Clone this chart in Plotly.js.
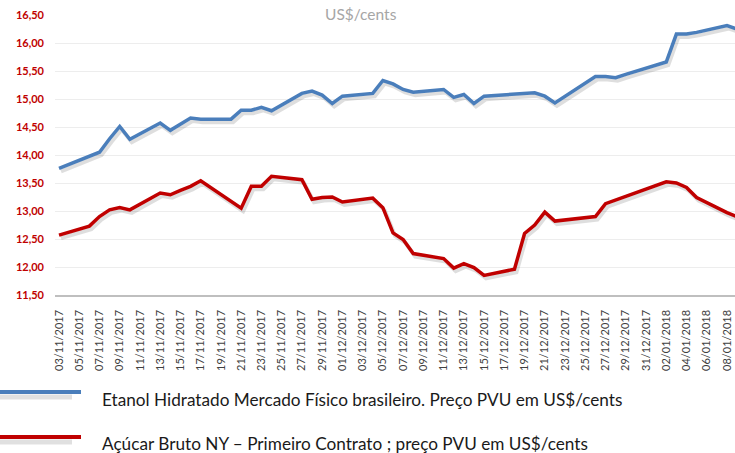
<!DOCTYPE html>
<html><head><meta charset="utf-8">
<script src="https://cdn.plot.ly/plotly-3.0.1.min.js"></script>
<style>html,body{margin:0;padding:0;background:#fff}#chart{width:735px;height:453px}</style>
</head><body><div id="chart"></div>
<script>
const dates = [
  '2017-11-03','2017-11-06','2017-11-07','2017-11-08','2017-11-09','2017-11-10',
  '2017-11-13','2017-11-14','2017-11-15','2017-11-16','2017-11-17',
  '2017-11-20','2017-11-21','2017-11-22','2017-11-23','2017-11-24',
  '2017-11-27','2017-11-28','2017-11-29','2017-11-30','2017-12-01',
  '2017-12-04','2017-12-05','2017-12-06','2017-12-07','2017-12-08',
  '2017-12-11','2017-12-12','2017-12-13','2017-12-14','2017-12-15',
  '2017-12-18','2017-12-19','2017-12-20','2017-12-21','2017-12-22',
  '2017-12-26','2017-12-27','2017-12-28','2017-12-29',
  '2018-01-02','2018-01-03','2018-01-04','2018-01-05','2018-01-08','2018-01-09'
];
const etanol = [
  13.76,13.98,14.05,14.29,14.51,14.28,
  14.57,14.44,14.55,14.66,14.64,
  14.64,14.80,14.80,14.85,14.79,
  15.10,15.14,15.07,14.92,15.05,
  15.10,15.33,15.27,15.17,15.12,
  15.17,15.03,15.08,14.92,15.05,
  15.09,15.10,15.11,15.05,14.93,
  15.40,15.40,15.38,15.44,
  15.66,16.16,16.16,16.19,16.31,16.25
];
const acucar = [
  12.57,12.73,12.90,13.02,13.06,13.02,
  13.32,13.29,13.37,13.44,13.54,
  13.16,13.05,13.44,13.44,13.62,
  13.56,13.21,13.24,13.25,13.16,
  13.23,13.06,12.61,12.49,12.24,
  12.15,11.98,12.06,11.99,11.85,
  11.96,12.60,12.75,12.98,12.82,
  12.90,13.13,13.20,13.26,
  13.52,13.50,13.42,13.24,12.97,12.90
];
const nameEtanol = 'Etanol Hidratado Mercado Físico brasileiro. Preço PVU em US$/cents';
const nameAcucar = 'Açúcar Bruto NY – Primeiro Contrato ; preço PVU em US$/cents';
const titleText = 'US$/cents';
const yTicks = [11.5,12,12.5,13,13.5,14,14.5,15,15.5,16,16.5];

const colBlue = '#4a7ebb', colRed = '#c00000';
const W = 735, H = 453, L = 55, R = 0, T = 15, B = 158;
const PW = W - L - R, PH = H - T - B;
const px2x = p => (p - L) / PW;
const px2y = p => (H - B - p) / PH;

const xr = ['2017-11-02 14:30', '2018-01-08 19:00'];
const yr = [11.5, 16.5];
// shadow axes: shifted by a few pixels
const toMs = s => Date.parse(s.replace(' ', 'T') + 'Z');
const fmt = ms => new Date(ms).toISOString().replace('T', ' ').replace('Z', '');
const msPerPx = (toMs(xr[1]) - toMs(xr[0])) / PW;
const xr2 = [fmt(toMs(xr[0]) - 2 * msPerPx), fmt(toMs(xr[1]) - 2 * msPerPx)];
const uPerPx = (yr[1] - yr[0]) / PH;
const yr2 = [yr[0] + 3 * uPerPx, yr[1] + 3 * uPerPx];

const shadow = 'rgba(0,0,0,0.13)';
const traces = [
  // anchor trace for the visible axes (transparent)
  {x: dates, y: etanol, type: 'scatter', mode: 'lines', xaxis: 'x', yaxis: 'y',
   line: {color: 'rgba(0,0,0,0)', width: 1}, hoverinfo: 'skip', showlegend: false},
  {x: dates, y: etanol, type: 'scatter', mode: 'lines', xaxis: 'x2', yaxis: 'y2',
   line: {color: shadow, width: 4}, hoverinfo: 'skip', showlegend: false},
  {x: dates, y: acucar, type: 'scatter', mode: 'lines', xaxis: 'x2', yaxis: 'y2',
   line: {color: shadow, width: 4}, hoverinfo: 'skip', showlegend: false},
  {x: dates, y: etanol, name: nameEtanol, type: 'scatter', mode: 'lines', xaxis: 'x3', yaxis: 'y3',
   line: {color: colBlue, width: 3.5}, showlegend: false},
  {x: dates, y: acucar, name: nameAcucar, type: 'scatter', mode: 'lines', xaxis: 'x3', yaxis: 'y3',
   line: {color: colRed, width: 3.5}, showlegend: false}
];

const legendItems = [
  {name: nameEtanol, color: colBlue, ly: 392, ty: 399},
  {name: nameAcucar, color: colRed, ly: 437, ty: 444}
];
const shapes = [], annotations = [];
legendItems.forEach(it => {
  shapes.push({type: 'line', xref: 'paper', yref: 'paper', x0: px2x(-5), x1: px2x(72),
    y0: px2y(it.ly + 5), y1: px2y(it.ly + 5), line: {color: 'rgba(0,0,0,0.12)', width: 5}});
  shapes.push({type: 'line', xref: 'paper', yref: 'paper', x0: px2x(-5), x1: px2x(81),
    y0: px2y(it.ly), y1: px2y(it.ly), line: {color: it.color, width: 4}});
  annotations.push({xref: 'paper', yref: 'paper', x: px2x(100), y: px2y(it.ty),
    xanchor: 'left', yanchor: 'middle', showarrow: false, text: it.name,
    font: {family: 'Lato, sans-serif', size: 17.2, color: '#1a1a1a'}});
});
annotations.push({xref: 'paper', yref: 'paper', x: px2x(361), y: px2y(14),
  xanchor: 'center', yanchor: 'middle', showarrow: false, text: titleText,
  bgcolor: '#ffffff', borderpad: 5,
  font: {family: 'Lato, sans-serif', size: 15.5, color: '#a6a6a6'}});

const hidden = {visible: false, fixedrange: true};
const layout = {
  width: W, height: H, margin: {l: L, r: R, t: T, b: B},
  paper_bgcolor: '#ffffff', plot_bgcolor: '#ffffff',
  separators: ',.',
  showlegend: false,
  xaxis: {type: 'date', range: xr, tick0: '2017-11-03', dtick: 2 * 86400000,
    tickformat: '%d/%m/%Y', tickangle: -90, showgrid: false, zeroline: false,
    showline: true, linecolor: '#bfbfbf', linewidth: 1.5, ticks: '',
    ticklabelstandoff: 9,
    tickfont: {family: 'Lato, sans-serif', size: 11, color: '#404040'}},
  yaxis: {range: yr, tickvals: yTicks, tickformat: '.2f', showgrid: true,
    gridcolor: '#ededed', gridwidth: 1, zeroline: false, showline: false, ticks: '',
    ticklabelstandoff: 10,
    tickfont: {family: 'Lato, sans-serif', size: 11, color: '#c00000', weight: 'bold'}},
  xaxis2: Object.assign({type: 'date', range: xr2, overlaying: 'x'}, hidden),
  yaxis2: Object.assign({range: yr2, overlaying: 'y'}, hidden),
  xaxis3: Object.assign({type: 'date', range: xr, overlaying: 'x'}, hidden),
  yaxis3: Object.assign({range: yr, overlaying: 'y'}, hidden),
  shapes: shapes, annotations: annotations
};
Plotly.newPlot('chart', traces, layout, {staticPlot: true, displayModeBar: false});
</script></body></html>
